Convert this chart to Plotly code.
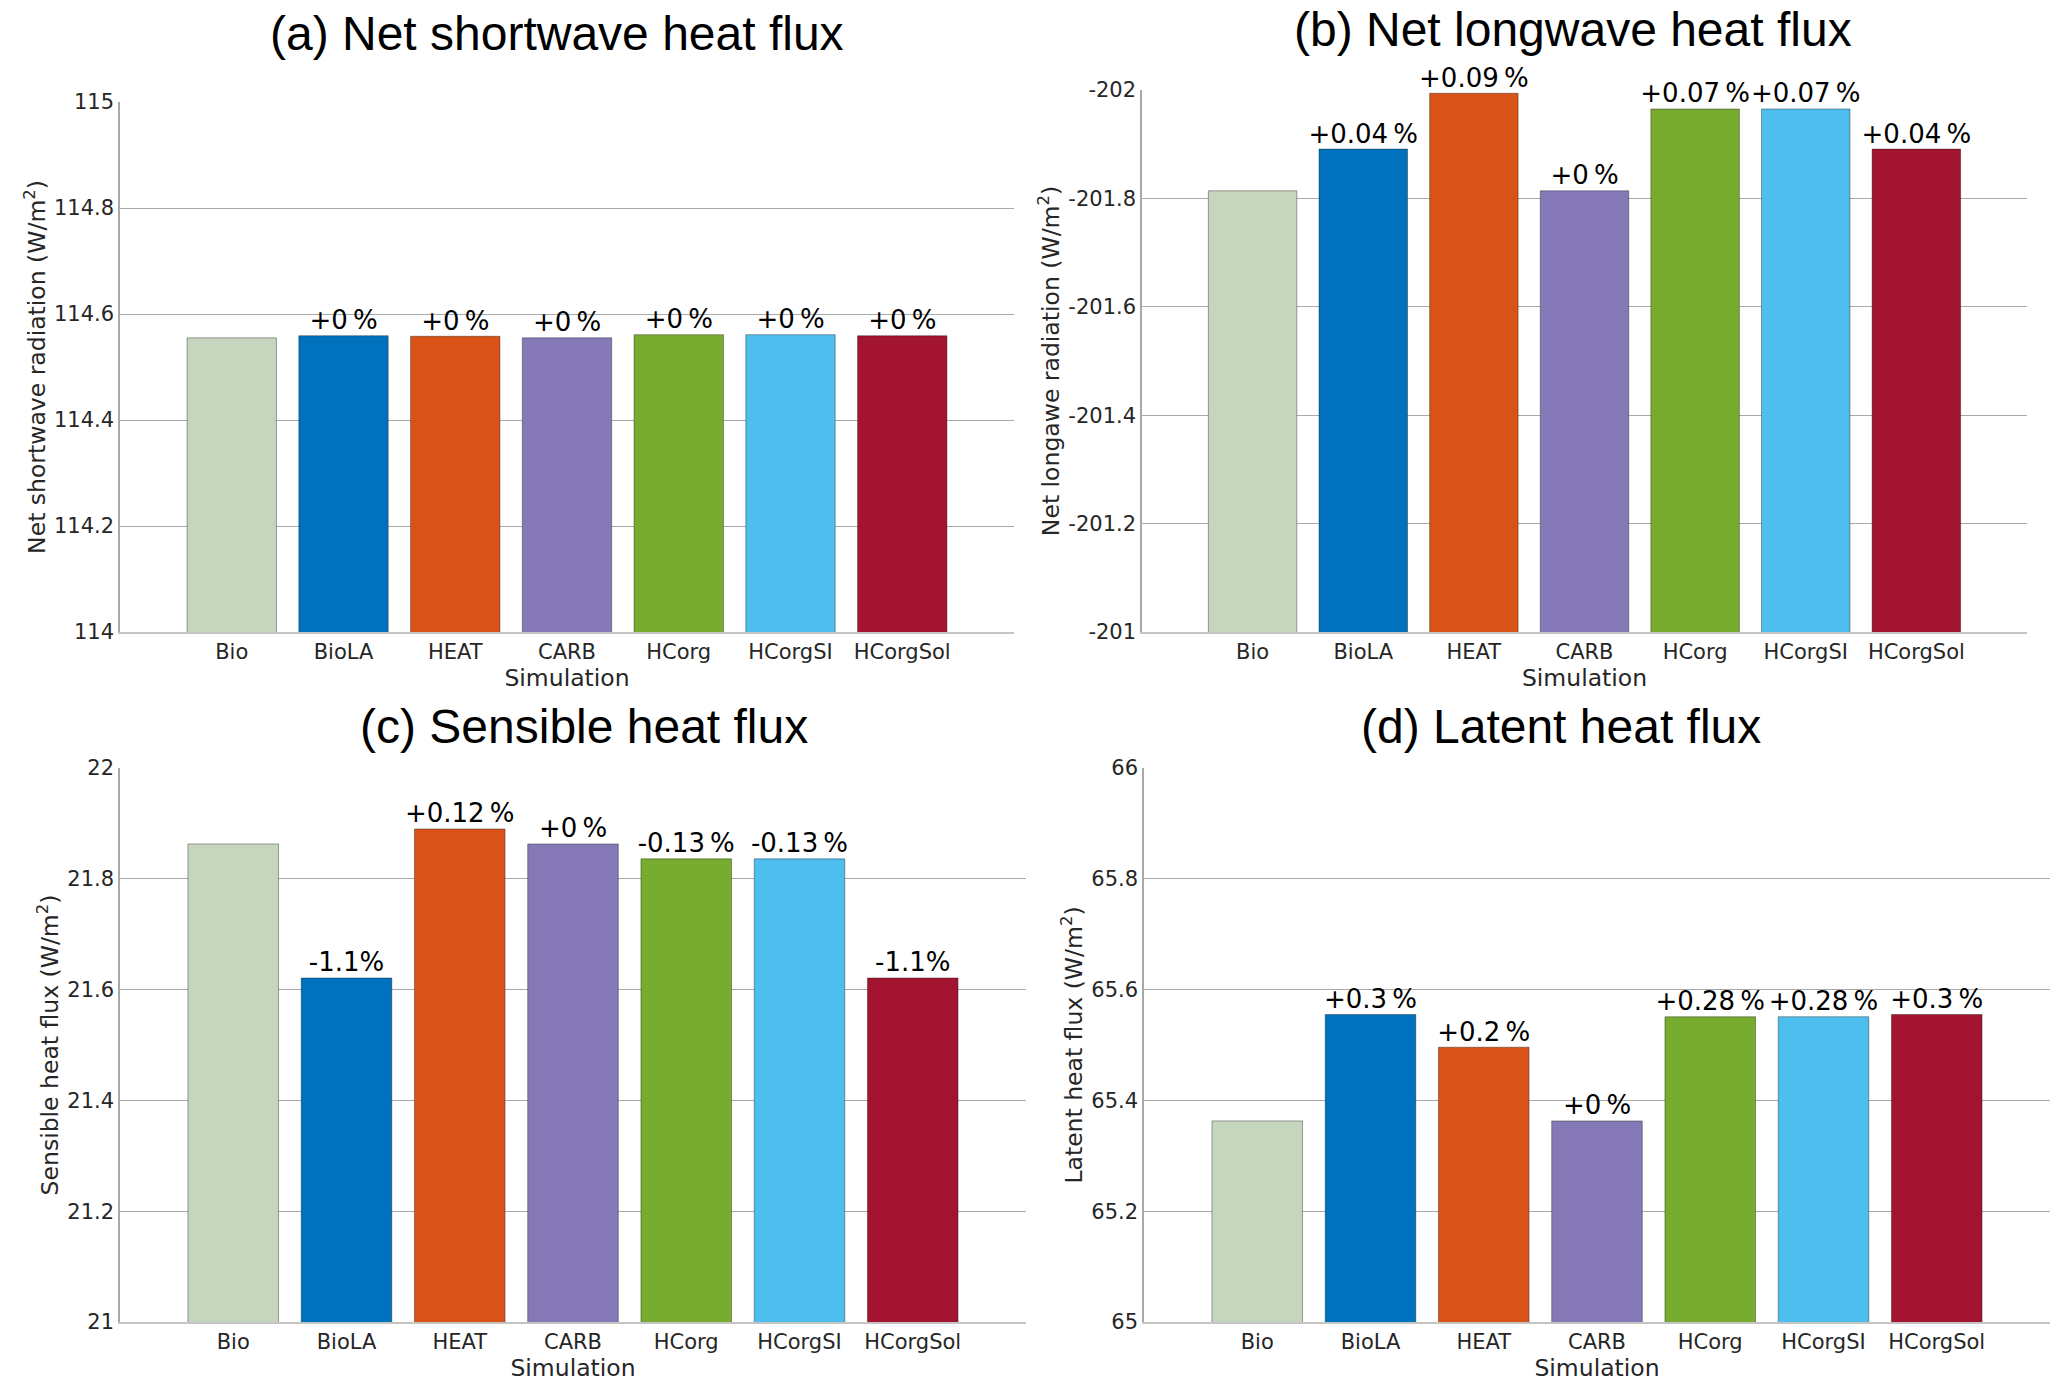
import plotly.graph_objects as go

sims = ["Bio", "BioLA", "HEAT", "CARB", "HCorg", "HCorgSI", "HCorgSol"]
colors = ["#c6d5be", "#0072bd", "#d95319", "#8579b8", "#77ac30", "#4dbeee", "#a2142f"]

# values (W/m2)
shortwave = [114.555, 114.559, 114.558, 114.555, 114.561, 114.561, 114.559]
longwave = [-201.814, -201.891, -201.994, -201.814, -201.965, -201.965, -201.891]
sensible = [21.863, 21.621, 21.890, 21.863, 21.836, 21.836, 21.621]
latent = [65.363, 65.555, 65.496, 65.363, 65.551, 65.551, 65.555]

ts = "\u2009"
shortwave_pct = ["", "+0" + ts + "%", "+0" + ts + "%", "+0" + ts + "%", "+0" + ts + "%", "+0" + ts + "%", "+0" + ts + "%"]
longwave_pct = ["", "+0.04" + ts + "%", "+0.09" + ts + "%", "+0" + ts + "%", "+0.07" + ts + "%", "+0.07" + ts + "%", "+0.04" + ts + "%"]
sensible_pct = ["", "-1.1%", "+0.12" + ts + "%", "+0" + ts + "%", "-0.13" + ts + "%", "-0.13" + ts + "%", "-1.1%"]
latent_pct = ["", "+0.3" + ts + "%", "+0.2" + ts + "%", "+0" + ts + "%", "+0.28" + ts + "%", "+0.28" + ts + "%", "+0.3" + ts + "%"]

titles = ["(a) Net shortwave heat flux", "(b) Net longwave heat flux",
          "(c) Sensible heat flux", "(d) Latent heat flux"]
ylabels = ["Net shortwave radiation (W/m<sup>2</sup>)", "Net longawe radiation (W/m<sup>2</sup>)",
           "Sensible heat flux (W/m<sup>2</sup>)", "Latent heat flux (W/m<sup>2</sup>)"]
ticks_a = [114, 114.2, 114.4, 114.6, 114.8, 115]
ticks_b = [-202, -201.8, -201.6, -201.4, -201.2, -201]
ticks_c = [21, 21.2, 21.4, 21.6, 21.8, 22]
ticks_d = [65, 65.2, 65.4, 65.6, 65.8, 66]

W, H = 2067, 1389
# plot boxes in pixels of the reference: left, right, top, bottom
boxes = [(120, 1014, 102, 632), (1142, 2027, 90, 632),
         (120, 1026, 768, 1322), (1144, 2050, 768, 1322)]
title_pos = [(557, 33), (1573, 29), (584, 726), (1561, 726)]

panels = [
    (shortwave, shortwave_pct, ticks_a, [114, 115]),
    (longwave, longwave_pct, ticks_b, [-201, -202]),
    (sensible, sensible_pct, ticks_c, [21, 22]),
    (latent, latent_pct, ticks_d, [65, 66]),
]

fig = go.Figure()
layout = {}
annotations = []
for i, (vals, pct, tks, yr) in enumerate(panels):
    n = "" if i == 0 else str(i + 1)
    fig.add_trace(go.Bar(
        x=sims, y=vals, width=0.8, marker_color=colors,
        marker_line=dict(color="rgba(0,0,0,0.35)", width=1),
        xaxis="x" + n, yaxis="y" + n, showlegend=False,
    ))
    # percent change labels (the reference run Bio has none)
    keep = [k for k, p in enumerate(pct) if p]
    fig.add_trace(go.Scatter(
        x=[sims[k] for k in keep], y=[vals[k] for k in keep],
        text=[pct[k] for k in keep], mode="text", textposition="top center",
        textfont=dict(family="DejaVu Sans", size=26, color="black"),
        cliponaxis=False, xaxis="x" + n, yaxis="y" + n, showlegend=False,
    ))
    l, r, t, b = boxes[i]
    layout["xaxis" + n] = dict(
        domain=[l / W, r / W], anchor="y" + n, range=[-1, 7], automargin=False,
        showline=True, linecolor="#c4c4c4", linewidth=1.5, showgrid=False,
        ticks="", tickfont=dict(family="DejaVu Sans", size=21, color="#262626"),
        title=dict(text="Simulation", standoff=2,
                   font=dict(family="DejaVu Sans", size=23.5, color="#262626")),
    )
    layout["yaxis" + n] = dict(
        domain=[1 - b / H, 1 - t / H], anchor="x" + n, range=yr, automargin=False,
        tickvals=tks, ticktext=[f"{v:g}" for v in tks],
        showline=True, linecolor="#a8a8a8", linewidth=1.5,
        showgrid=True, gridcolor="#aaaaaa", gridwidth=1.2, zeroline=False,
        ticks="", tickfont=dict(family="DejaVu Sans", size=21, color="#262626"),
        title=dict(text=ylabels[i], standoff=2,
                   font=dict(family="DejaVu Sans", size=23.5, color="#262626")),
    )
    tx, ty = title_pos[i]
    annotations.append(dict(
        text=titles[i], x=tx / W, y=1 - ty / H, xref="paper", yref="paper",
        xanchor="center", yanchor="middle", showarrow=False,
        font=dict(family="Liberation Sans", size=48, color="black"),
    ))

fig.update_layout(
    **layout,
    annotations=annotations,
    width=W, height=H,
    margin=dict(l=0, r=0, t=0, b=0, autoexpand=False),
    plot_bgcolor="white", paper_bgcolor="white",
    bargap=0.2,
)

# pin the plot to the top-left corner of the window
pin = ("var gd = document.getElementById('{plot_id}');"
       "document.body.style.margin = '0';"
       "gd.style.position = 'fixed'; gd.style.left = '0px'; gd.style.top = '0px';")
fig.write_html("out.html", post_script=pin, config={"displayModeBar": False})
